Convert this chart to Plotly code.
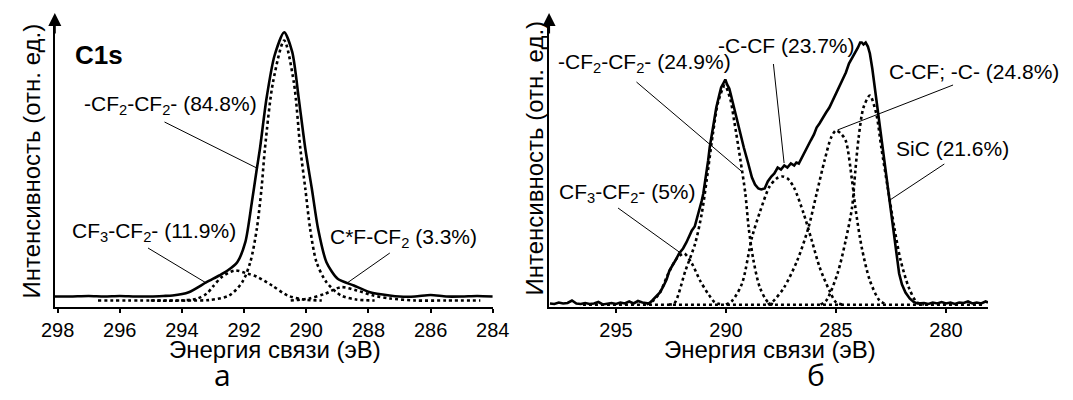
import plotly.graph_objects as go

FONT = "Liberation Sans, Arial, sans-serif"
W, H = 1073, 400

# ---------------- Panel "а" (C1s, PTFE-like) ----------------
a_ticks = [298, 296, 294, 292, 290, 288, 286, 284]

a_total_E = [298.09, 297.6, 297.0, 296.5, 296.0, 295.5, 295.0, 294.6, 294.3, 293.78, 293.21, 292.8,
             292.53, 292.22, 291.96, 291.75, 291.59, 291.49, 291.28, 291.02, 290.71, 290.45,
             290.24, 290.03, 289.82, 289.62, 289.35, 288.99, 288.47, 287.95, 287.32, 287.0,
             286.5, 286.0, 285.5, 285.0, 284.5, 284.0]
a_total_I = [10, 10, 10.5, 10, 10.5, 10, 10, 10.5, 11, 14.3, 24.3, 31,
             36, 44.3, 64.3, 104.3, 137.7, 157.7, 207.7, 251, 274.3, 254.3,
             207.7, 157.7, 117.7, 77.7, 44.3, 27.7, 21, 14.3, 11, 10,
             10, 11.5, 10, 10, 10.5, 10]

a_main_E = [296.7, 295.0, 293.5, 293.1, 292.48, 292.06, 291.8, 291.59, 291.44, 291.33, 291.07,
            290.71, 290.4, 290.19, 290.03, 289.875, 289.67, 289.35, 288.88, 288.4, 287.8]
a_main_I = [6, 6, 6, 6.5, 11, 24.3, 44.3, 77.7, 117.7, 157.7, 224.3,
            266, 224.3, 157.7, 117.7, 77.7, 44.3, 24.3, 11, 7, 6]

a_cf3_E = [295.0, 294.0, 293.5, 293.2, 293.0, 292.7, 292.3, 291.9, 291.6, 291.1, 290.6, 290.1, 289.5]
a_cf3_I = [6, 6, 8, 13, 20, 30, 36, 33, 30, 21, 11, 7, 6]

a_cf_E = [290.5, 289.9, 289.4, 288.88, 288.37, 287.84, 287.3, 286.5, 285.5, 284.4]
a_cf_I = [6, 8, 12.7, 19.3, 16, 11, 8, 6, 6, 6]

# ---------------- Panel "б" (C1s, fluorinated SiC) ----------------
b_ticks = [295, 290, 285, 280]

b_total_E = [298.0, 297.8, 297.6, 297.4, 297.2, 297.0, 296.8, 296.6, 296.4, 296.2, 296.0, 295.8,
             295.6, 295.4, 295.2, 295.0, 294.8, 294.6, 294.4, 294.2, 294.0, 293.8, 293.6, 293.5,
             293.35, 293.2, 293.0, 292.85, 292.7, 292.57, 292.45, 292.3, 292.13, 291.95, 291.8,
             291.69, 291.55, 291.42, 291.33, 291.2, 291.1, 291.03, 290.92, 290.81, 290.74, 290.6,
             290.44, 290.3, 290.22, 290.1, 290.03, 289.95, 289.85, 289.78, 289.65, 289.49, 289.35,
             289.19, 289.0, 288.82, 288.68, 288.53, 288.4, 288.24, 288.1, 287.94, 287.8, 287.65,
             287.5, 287.35, 287.21, 287.05, 286.9, 286.8, 286.69, 286.58, 286.47, 286.3, 286.15,
             286.0, 285.88, 285.75, 285.6, 285.45, 285.3, 285.15, 285.0, 284.85, 284.7, 284.55,
             284.41, 284.25, 284.1, 284.0, 283.9, 283.83, 283.75, 283.65, 283.55, 283.46, 283.35,
             283.24, 283.13, 283.02, 282.9, 282.79, 282.68, 282.57, 282.46, 282.35, 282.24, 282.13,
             282.0, 281.84, 281.65, 281.47, 281.3, 281.18, 281.0, 280.8, 280.6, 280.4, 280.2, 280.0,
             279.8, 279.6, 279.4, 279.2, 279.0, 278.8, 278.6, 278.4, 278.2, 278.09]
b_total_I = [3, 2.5, 4, 3, 3.5, 6, 3, 2.5, 3.5, 2.5, 3, 4.5,
             2, 3, 3.5, 2.5, 4, 3, 5, 3, 5.5, 4, 3.5, 3,
             6, 9, 14, 20, 27, 36, 40, 46, 53, 58, 64,
             70, 76, 80, 87, 97, 106, 113, 128, 146, 159, 180,
             199, 212, 219, 224, 227, 222, 218, 212, 200, 186, 173,
             159, 144, 129, 122, 118, 117, 118, 125, 130, 133, 139,
             137, 141, 139, 143, 141, 144, 143, 148, 153, 160, 166,
             172, 179, 183, 189, 194, 199, 206, 212, 219, 226, 234,
             243, 249, 255, 259, 264, 264, 262, 264, 260, 253, 238,
             219, 203, 186, 166, 146, 126, 106, 86, 66, 48, 33,
             22, 14, 8, 4.5, 3, 3, 3.5, 2.5, 4, 3, 4.5, 3,
             4, 2.5, 4, 3.5, 5, 3, 4, 3, 5, 4]

b_base_E = [296.5, 278.3]
b_base_I = [1.7, 1.7]

b_cf3_E = [293.6, 293.3, 293.0, 292.6, 292.2, 291.9, 291.55, 291.18, 290.81, 290.51, 290.2]
b_cf3_I = [2, 6, 14, 34, 49, 53, 43, 26, 12.7, 4.3, 2]

b_cf2_E = [292.6, 292.35, 291.84, 291.4, 291.1, 290.88, 290.6, 290.35, 290.05, 289.8, 289.63,
           289.34, 289.12, 288.97, 288.75, 288.46, 288.09, 287.8]
b_cf2_I = [2, 3, 36, 63, 93, 126, 172, 205, 221, 207, 186,
           146, 113, 79, 46, 19, 4.3, 2]

b_ccf_E = [290.0, 289.71, 289.27, 288.82, 288.45, 288.02, 287.7, 287.45, 287.2, 286.91, 286.47,
           286.1, 285.74, 285.3, 285.0, 284.7]
b_ccf_I = [2, 6, 23, 69, 95, 120, 128, 130, 128, 119, 93,
           66, 39, 16, 4.3, 2]

b_cc_E = [288.1, 287.87, 287.36, 286.76, 286.25, 285.88, 285.52, 285.22, 285.0, 284.78, 284.56,
          284.27, 284.12, 283.83, 283.46, 283.02, 282.7]
b_cc_I = [2, 5, 19, 46, 79, 113, 146, 169, 176, 173, 166,
          126, 99, 59, 26, 6, 2]

b_sic_E = [285.7, 285.44, 284.93, 284.56, 284.27, 284.12, 283.97, 283.75, 283.46, 283.17, 282.94,
           282.65, 282.35, 282.06, 281.69, 281.33, 281.0]
b_sic_I = [2, 6, 33, 66, 99, 136, 169, 199, 211, 193, 159,
           119, 79, 46, 19, 4.3, 2]

# ---------------- figure ----------------
fig = go.Figure()

def solid(x, y, ax, spline=True):
    fig.add_trace(go.Scatter(
        x=x, y=y, mode="lines", xaxis=ax[0], yaxis=ax[1], showlegend=False, hoverinfo="skip",
        line=dict(color="black", width=2.6, shape="spline" if spline else "linear", smoothing=0.7)))

def dotted(x, y, ax):
    fig.add_trace(go.Scatter(
        x=x, y=y, mode="lines", xaxis=ax[0], yaxis=ax[1], showlegend=False, hoverinfo="skip",
        line=dict(color="black", width=2.6, dash="dot", shape="spline", smoothing=0.8)))

A = ("x", "y")
B = ("x2", "y2")
dotted(a_main_E, a_main_I, A)
dotted(a_cf3_E, a_cf3_I, A)
dotted(a_cf_E, a_cf_I, A)
solid(a_total_E, a_total_I, A)

dotted(b_base_E, b_base_I, B)
dotted(b_cf3_E, b_cf3_I, B)
dotted(b_cf2_E, b_cf2_I, B)
dotted(b_ccf_E, b_ccf_I, B)
dotted(b_cc_E, b_cc_I, B)
dotted(b_sic_E, b_sic_I, B)
solid(b_total_E, b_total_I, B, spline=False)

def px(x):
    return x / W

def py(y):
    return 1 - y / H

ybot, ytop = 306.5, 22
xaxis_common = dict(showgrid=False, zeroline=False, showline=True, linecolor="black", linewidth=2,
                    ticks="outside", ticklen=4, tickwidth=1.5, tickcolor="black",
                    tickfont=dict(family=FONT, size=20, color="black"))
yaxis_common = dict(showgrid=False, zeroline=False, showline=True, linecolor="black", linewidth=2,
                    showticklabels=False, ticks="", range=[0, 284.5],
                    domain=[py(ybot), py(ytop)])

fig.update_layout(
    width=W, height=H, margin=dict(l=0, r=0, t=0, b=0),
    paper_bgcolor="white", plot_bgcolor="white", showlegend=False,
    xaxis=dict(**xaxis_common, anchor="y",
               domain=[px(42), px(493)], range=[298.09, 284], tickvals=a_ticks),
    yaxis=dict(**yaxis_common, anchor="x"),
    xaxis2=dict(**xaxis_common, anchor="y2",
                domain=[px(551), px(1003)], range=[298.04, 278.09], tickvals=b_ticks),
    yaxis2=dict(**yaxis_common, anchor="x2"),
)

ann = []

def text(x, y, s, size=21, angle=0, bold=False, family=FONT, xanchor="left"):
    if bold:
        s = "<b>" + s + "</b>"
    ann.append(dict(x=px(x), y=py(y), xref="paper", yref="paper", text=s, showarrow=False,
                    xanchor=xanchor, yanchor="middle", textangle=angle,
                    font=dict(family=family, size=size, color="black")))

# y-axis arrows
for xa in (42, 551):
    ann.append(dict(x=px(xa), y=py(13), xref="paper", yref="paper", ax=0, ay=22, axref="pixel",
                    ayref="pixel", text="", showarrow=True, arrowhead=2, arrowsize=1.3,
                    arrowwidth=2, arrowcolor="black"))

# Axis titles
text(268.5, 349, "Энергия связи (эВ)", size=24, xanchor="center")
text(779, 349, "Энергия связи (эВ)", size=24, xanchor="center")
text(18, 161, "Интенсивность (отн. ед.)", size=24, angle=-90, xanchor="center")
text(535, 158, "Интенсивность (отн. ед.)", size=24, angle=-90, xanchor="center")

# Panel letters
text(215, 374, "а", size=30, family="Open Sans, Noto Sans, sans-serif", xanchor="center")
text(826, 374, "б", size=30, family="Open Sans, Noto Sans, sans-serif", xanchor="center")

# Panel a labels
text(61, 55, "C1s", size=26, bold=True)
text(70, 105, "-CF<sub>2</sub>-CF<sub>2</sub>- (84.8%)")
text(58, 232, "CF<sub>3</sub>-CF<sub>2</sub>- (11.9%)")
text(323, 238, "C*F-CF<sub>2</sub> (3.3%)")

# Panel b labels
text(558, 63, "-CF<sub>2</sub>-CF<sub>2</sub>- (24.9%)")
text(723, 45, "-C-CF (23.7%)")
text(899, 72, "C-CF; -C- (24.8%)")
text(906, 148, "SiC (21.6%)")
text(559, 193, "CF<sub>3</sub>-CF<sub>2</sub>- (5%)")

fig.update_layout(annotations=ann)

# leader lines (pixel positions converted to paper coords)
leaders = [
    ((155, 122), (250, 168)),
    ((138, 248), (198, 283)),
    ((387, 253), (343, 283)),
    ((641, 82), (750, 172)),
    ((782, 64), (793, 163)),
    ((967, 85), (848, 130)),
    ((958, 164), (902, 200)),
    ((622, 208), (685, 252)),
]
for (x0, y0), (x1, y1) in leaders:
    fig.add_shape(type="line", xref="paper", yref="paper", x0=px(x0), y0=py(y0), x1=px(x1),
                  y1=py(y1), line=dict(color="black", width=1))

fig.write_html("out.html", config={"displayModeBar": False},
               post_script="document.body.style.margin='0';document.body.style.overflow='hidden';")
